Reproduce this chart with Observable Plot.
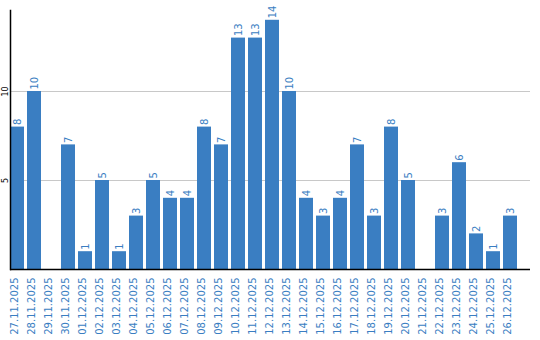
<!DOCTYPE html>
<html><head><meta charset="utf-8">
<script src="https://cdn.jsdelivr.net/npm/d3@7"></script>
<script src="https://cdn.jsdelivr.net/npm/@observablehq/plot@0.6"></script>
<style>body{margin:0;background:#fff;font-family:"DejaVu Sans",sans-serif}</style>
</head><body><div id="chart"></div>
<script>
const dates = ["27.11.2025","28.11.2025","29.11.2025","30.11.2025","01.12.2025","02.12.2025","03.12.2025","04.12.2025","05.12.2025","06.12.2025","07.12.2025","08.12.2025","09.12.2025","10.12.2025","11.12.2025","12.12.2025","13.12.2025","14.12.2025","15.12.2025","16.12.2025","17.12.2025","18.12.2025","19.12.2025","20.12.2025","21.12.2025","22.12.2025","23.12.2025","24.12.2025","25.12.2025","26.12.2025"];
const values = [8,10,0,7,1,5,1,3,5,4,4,8,7,13,13,14,10,4,3,4,7,3,8,5,0,3,6,2,1,3];
const yTicks = [5,10];
const data = dates.map((d,i)=>({date:d, value:values[i]}));
const blue = "#3a7ec2";
const chart = Plot.plot({
  width:540, height:340,
  marginTop:10, marginBottom:71, marginLeft:10, marginRight:10,
  style:{fontFamily:"DejaVu Sans, sans-serif", background:"#fff"},
  x:{type:"band", domain:dates, range:[10,517], paddingInner:3/17, paddingOuter:0, axis:null},
  y:{domain:[0,14.55], axis:null},
  marks:[
    Plot.gridY(yTicks,{stroke:"#c8c8c8", strokeOpacity:1}),
    Plot.barY(data,{x:"date", y:"value", fill:blue}),
    Plot.text(data.filter(d=>d.value>0),{x:"date", y:"value", text:d=>String(d.value), rotate:-90, textAnchor:"start", dy:-2, fill:blue, fontSize:10}),
    Plot.text(dates,{x:d=>d, frameAnchor:"bottom", text:d=>d, rotate:-90, textAnchor:"end", dy:8, fill:blue, fontSize:10}),
    Plot.text(yTicks,{y:d=>d, frameAnchor:"left", text:d=>String(d), rotate:-90, textAnchor:"middle", dx:-5, fill:"#000", fontSize:8}),
    Plot.ruleY([0],{stroke:"#000", strokeWidth:1.5}),
    Plot.frame({anchor:"left", stroke:"#000", strokeWidth:1.5})
  ]
});
document.getElementById("chart").appendChild(chart);
</script></body></html>
